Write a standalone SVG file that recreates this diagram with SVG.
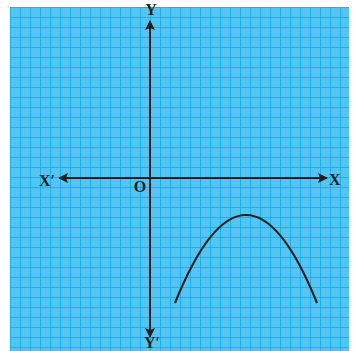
<svg xmlns="http://www.w3.org/2000/svg" width="358" height="351" viewBox="0 0 358 351">
<defs>
<pattern id="grid" x="10" y="7" width="10" height="10" patternUnits="userSpaceOnUse">
<rect width="10" height="10" fill="#e4f5fd"/>
<path d="M1 0V10M3 0V10M5 0V10M7 0V10M9 0V10M0 1H10M0 3H10M0 5H10M0 7H10M0 9H10" stroke="#27b4ec" stroke-width="1"/>
<path d="M0 0V10M0 0H10" stroke="#00aeef" stroke-width="1.5"/>
</pattern>
<marker id="arr" viewBox="0 0 10 10" refX="9" refY="5" markerWidth="11" markerHeight="10" markerUnits="userSpaceOnUse" orient="auto">
<path d="M0 0L10 5L0 10L2 5Z" fill="#231f20"/>
</marker>
<style>
.ax{stroke:#231f20;stroke-width:2;fill:none}
.lbl{font-family:"Liberation Serif",serif;font-weight:bold;font-size:16px;fill:#231f20}
.curve{stroke:#231f20;stroke-width:2.2;fill:none}
</style>
</defs>
<rect width="358" height="351" fill="#ffffff"/>
<rect x="10" y="7" width="339" height="344" fill="url(#grid)"/>
<g id="connectors">
<line class="ax" x1="150" y1="178" x2="150" y2="21" marker-end="url(#arr)"/>
<line class="ax" x1="150" y1="178" x2="150" y2="337" marker-end="url(#arr)"/>
<line class="ax" x1="150" y1="178" x2="327" y2="178" marker-end="url(#arr)"/>
<line class="ax" x1="150" y1="178" x2="59" y2="178" marker-end="url(#arr)"/>
</g>
<g id="curve">
<path class="curve" d="M175 303Q246 127 317 303"/>
</g>
<g id="labels">
<text class="lbl" x="151" y="15" text-anchor="middle">Y</text>
<text class="lbl" x="152" y="348" text-anchor="middle" font-size="15">Y′</text>
<text class="lbl" x="329" y="185">X</text>
<text class="lbl" x="39" y="186">X′</text>
<text class="lbl" x="140" y="192" text-anchor="middle" font-size="14">O</text>
</g>
</svg>
